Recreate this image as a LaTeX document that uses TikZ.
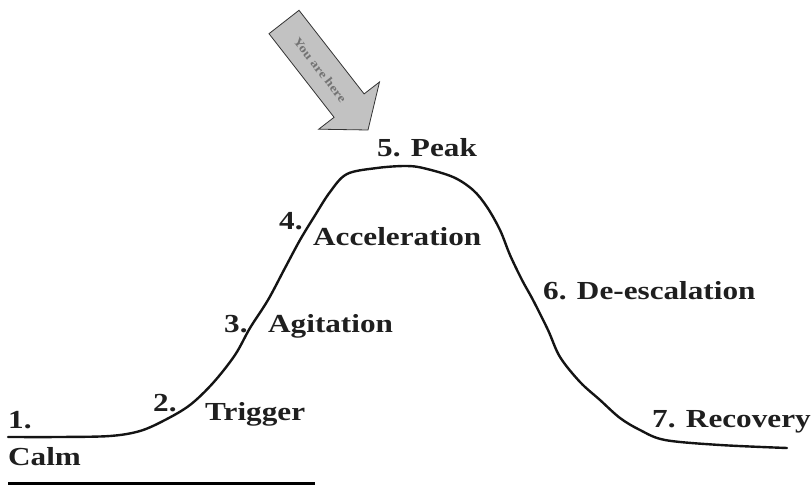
\documentclass[tikz,border=0pt]{standalone}
\usepackage{fontspec}
\setmainfont{Liberation Serif}[FakeStretch=1.2]
\begin{document}
\begin{tikzpicture}[x=1pt,y=-1pt,
  lbl/.style={inner sep=0pt, anchor=base west, font=\fontsize{26}{30}\selectfont\bfseries, text=black!88},
  curve/.style={line width=2.4pt, line join=round, line cap=round, black!92},
  bigarrow/.style={fill=black!24, draw=black!80, line width=0.8pt, line join=miter}]
\useasboundingbox (0,0) rectangle (812,489);

% escalation curve
\draw[curve] plot[smooth, tension=0.55] coordinates {
 (8,437) (60,437) (110,436) (140,431) (165,420) (190,405) (213,383)
 (235,355) (250,328) (268,300) (285,268) (300,240) (314,217) (330,192)
 (347,174) (377,168) (405,166) (423,168) (453,177) (473,190) (487,207)
 (500,230) (510,255) (522,280) (533,300) (548,330) (560,357) (580,382)
 (600,400) (620,418) (640,430) (665,440) (720,445) (787,448)};

% bottom rule under Calm
\draw[line width=3pt, black] (8,483) -- (315,483);

% "you are here" arrow
\filldraw[bigarrow] (299,10.3) -- (364.1,93.9) -- (379.5,82) -- (368,130)
  -- (318.7,129.2) -- (334.1,117.3) -- (269,33.7) -- cycle;
\node[rotate=-52.1, inner sep=0pt, font=\fontsize{12}{13}\selectfont\bfseries, text=black!55] (yah) at (320,70) {You are here};

% labels
\node[lbl] (l1) at (8,428) {1.};
\node[lbl] (calm) at (8,465) {Calm};
\node[lbl] (l2) at (153,411) {2.};
\node[lbl] (trig) at (205,420) {Trigger};
\node[lbl] (l3) at (224,333) {3.};
\node[lbl] (agit) at (268,333) {Agitation};
\node[lbl] (l4) at (279,230) {4.};
\node[lbl] (acc) at (313,246) {Acceleration};
\node[lbl] (peak) at (377,157) {5. Peak};
\node[lbl] (desc) at (543,300) {6. De-escalation};
\node[lbl] (rec) at (652,427) {7. Recovery};
\end{tikzpicture}
\end{document}
